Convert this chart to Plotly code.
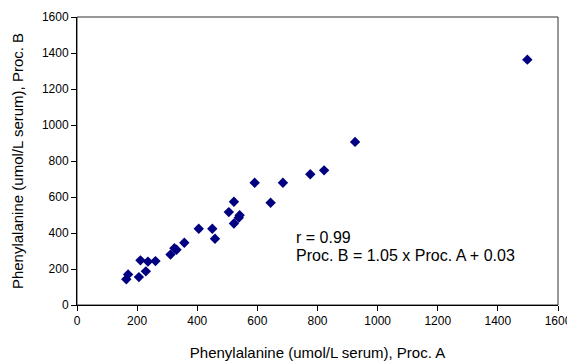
import plotly.graph_objects as go

proc_a = [164, 170, 206, 229, 211, 236, 261, 311, 324, 331, 357, 405, 450, 459,
          505, 522, 522, 538, 541, 591, 644, 685, 776, 822, 925, 1498]
proc_b = [143, 170, 155, 187, 248, 241, 244, 280, 315, 307, 346, 424, 424, 368,
          516, 574, 453, 485, 499, 679, 568, 679, 726, 748, 906, 1363]
tick_vals = [0, 200, 400, 600, 800, 1000, 1200, 1400, 1600]
tick_text = [str(v) for v in tick_vals]
x_title = "Phenylalanine (umol/L serum), Proc. A"
y_title = "Phenylalanine (umol/L serum), Proc. B"
annot_lines = ["r = 0.99", "Proc. B = 1.05 x Proc. A + 0.03"]

font = "Liberation Sans, Arial, sans-serif"
off = 8  # page body margin
W, H = 575 - off, 362 - off
ml, mt = 77 - off, 17 - off
pw, ph = 481, 288
mr = W - ml - pw
mb = H - mt - ph

fig = go.Figure()
fig.add_trace(go.Scatter(
    x=proc_a, y=proc_b, mode="markers",
    marker=dict(symbol="diamond", size=8, color="#000080", line=dict(width=0)),
    showlegend=False, hoverinfo="x+y"))

axis_common = dict(
    range=[0, 1600], tickvals=tick_vals, ticktext=tick_text, automargin=False,
    showgrid=False, zeroline=False, showline=True, linecolor="black", linewidth=1,
    ticks="outside", ticklen=5, tickcolor="black", tickwidth=1,
    tickfont=dict(family=font, size=12, color="black"),
)
fig.update_xaxes(**axis_common, title=dict(text=x_title, font=dict(family=font, size=15, color="black"), standoff=20))
fig.update_yaxes(**axis_common, title=dict(text=y_title, font=dict(family=font, size=15, color="black"), standoff=14))

fig.add_shape(type="rect", xref="paper", yref="paper", x0=0, y0=0, x1=1, y1=1,
              line=dict(color="#303030", width=1), layer="below")

for txt, ypx in zip(annot_lines, [238, 256]):
    fig.add_annotation(x=(294 - 77) / pw, y=(306 - ypx) / ph, xref="paper", yref="paper",
                       showarrow=False, text=txt, align="left", xanchor="left", yanchor="middle",
                       font=dict(family=font, size=16, color="black"))

fig.update_layout(
    width=W, height=H,
    margin=dict(l=ml, r=mr, t=mt, b=mb),
    paper_bgcolor="white", plot_bgcolor="white",
    font=dict(family=font, size=12, color="black"),
)
fig.write_html("out.html")
